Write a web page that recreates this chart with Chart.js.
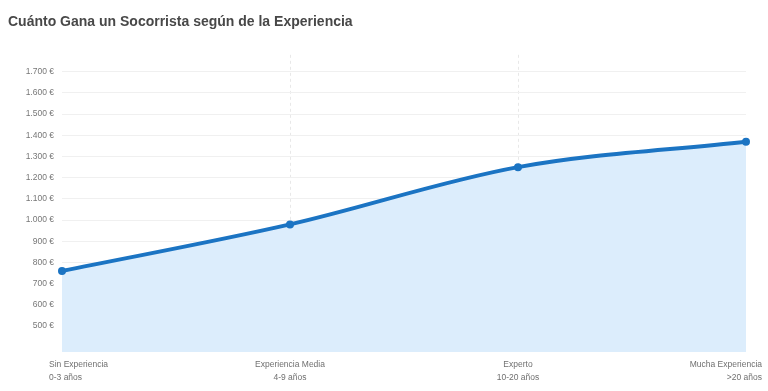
<!DOCTYPE html>
<html>
<head>
<meta charset="utf-8">
<script src="https://cdn.jsdelivr.net/npm/chart.js@4.4.1/dist/chart.umd.min.js"></script>
<style>
  html, body { margin: 0; padding: 0; background: #fff; }
  #wrap { width: 768px; height: 391px; position: relative; }
</style>
</head>
<body>
<div id="wrap"><canvas id="salaryChart"></canvas></div>
<script>
  const TITLE = 'Cuánto Gana un Socorrista según de la Experiencia';
  const LEVELS = ['Sin Experiencia', 'Experiencia Media', 'Experto', 'Mucha Experiencia'];
  const YEARS = ['0-3 años', '4-9 años', '10-20 años', '>20 años'];
  const SALARY = [760, 980, 1250, 1370];
  const Y_TICKS = [500, 600, 700, 800, 900, 1000, 1100, 1200, 1300, 1400, 1500, 1600, 1700];

  const LINE_COLOR = '#1b74c3';
  const FILL_COLOR = '#dcedfc';
  const FONT = "'Liberation Sans', Arial, sans-serif";

  function euro(v) {
    return v.toLocaleString('de-DE') + ' €';
  }

  // x labels: first left-aligned, last right-aligned, rest centred
  const xLabels = {
    id: 'xLabels',
    afterDraw(chart) {
      const x = chart.scales.x;
      const c = chart.ctx;
      const bottom = chart.chartArea.bottom;
      c.save();
      c.font = '8.5px ' + FONT;
      c.fillStyle = '#707070';
      c.textBaseline = 'middle';
      LEVELS.forEach((lab, i) => {
        let px = x.getPixelForValue(i);
        if (i === 0) { c.textAlign = 'left'; px -= 13; }
        else if (i === LEVELS.length - 1) { c.textAlign = 'right'; px += 16; }
        else c.textAlign = 'center';
        c.fillText(lab, px, bottom + 13);
        c.fillText(YEARS[i], px, bottom + 26);
      });
      c.restore();
    }
  };

  new Chart(document.getElementById('salaryChart'), {
    type: 'line',
    data: {
      labels: LEVELS,
      datasets: [{
        data: SALARY,
        borderColor: LINE_COLOR,
        backgroundColor: FILL_COLOR,
        borderWidth: 4,
        fill: true,
        cubicInterpolationMode: 'monotone',
        pointRadius: 4,
        pointBackgroundColor: LINE_COLOR,
        pointBorderColor: LINE_COLOR,
        pointBorderWidth: 0,
      }],
    },
    options: {
      responsive: true,
      maintainAspectRatio: false,
      animation: false,
      layout: { padding: { left: 8, right: 22, top: 0, bottom: 39 } },
      plugins: {
        legend: { display: false },
        tooltip: { enabled: false },
        title: {
          display: true,
          text: TITLE,
          align: 'start',
          color: '#484848',
          font: { family: FONT, size: 14, weight: 'bold' },
          padding: { top: 14, bottom: 24 },
        },
      },
      scales: {
        x: {
          offset: false,
          ticks: { display: false },
          grid: {
            color: ctx => (ctx.index === 0 || ctx.index === LEVELS.length - 1) ? 'rgba(0,0,0,0)' : '#e8e8e8',
            drawTicks: false,
          },
          border: { display: false, dash: [3, 3] },
        },
        y: {
          min: 378,
          max: 1780,
          afterBuildTicks: s => { s.ticks = Y_TICKS.map(v => ({ value: v })); },
          afterFit: s => { s.width = 54; },
          border: { display: false },
          grid: { color: '#f0f0f0', drawTicks: false },
          ticks: {
            padding: 8,
            color: '#777',
            font: { family: FONT, size: 8.5 },
            callback: v => euro(v),
          },
        },
      },
    },
    plugins: [xLabels],
  });
</script>
</body>
</html>
